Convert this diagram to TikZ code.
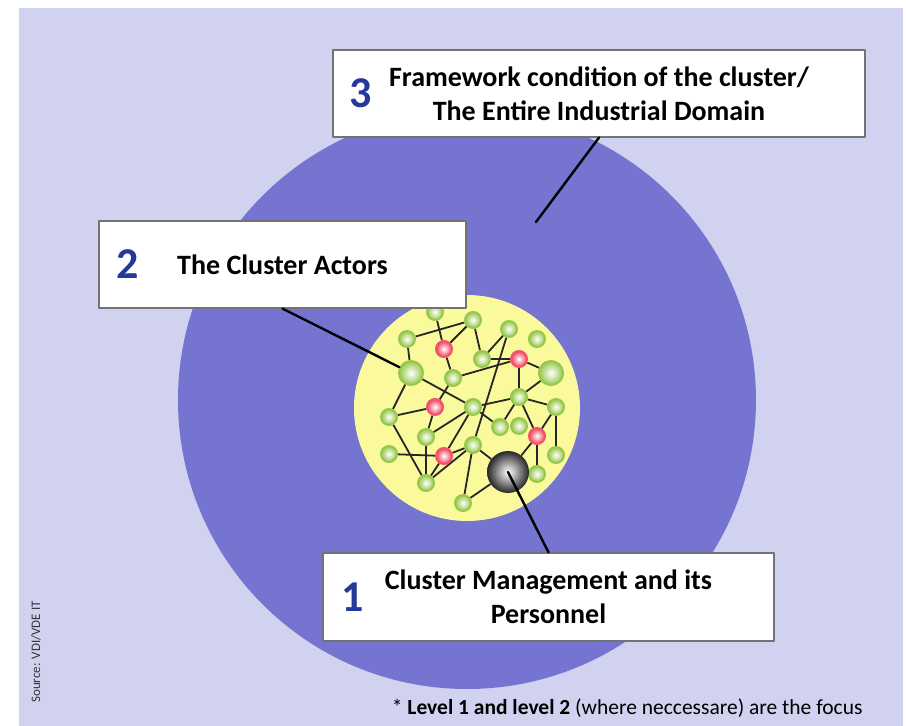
\documentclass[tikz,border=0pt]{standalone}
\usepackage{fontspec}
\setmainfont{Carlito}
\usetikzlibrary{positioning}
\definecolor{lavend}{HTML}{D1D1F0}
\definecolor{domainblue}{HTML}{7574D0}
\definecolor{core}{HTML}{FAFA9C}
\definecolor{lvlblue}{HTML}{26399A}
\definecolor{actgreen}{HTML}{96C84C}
\definecolor{actred}{HTML}{F0405A}
\pgfdeclarelayer{bg}\pgfdeclarelayer{links}
\pgfsetlayers{bg,links,main}
\tikzset{
	actor/.style={circle, inner sep=0pt, minimum size=16, shade, inner color=white, outer color=actgreen, draw=actgreen, line width=2},
	bigactor/.style={actor, minimum size=24},
	hub/.style={actor, inner color=white, outer color=actred, draw=actred!90},
	mgmt/.style={circle, inner sep=0pt, minimum size=42, shade, inner color=white, outer color=black!85},
	infobox/.style={rectangle, draw=black!55, fill=white, line width=1.2, align=center, inner sep=0pt, font=\bfseries\fontsize{28}{34}\selectfont},
	lvl/.style={inner sep=0pt, text=lvlblue, font=\bfseries\fontsize{44}{44}\selectfont},
	leader/.style={line width=2.4, black, line cap=round},
	link/.style={line width=1.8, black!85}
}
\begin{document}
\begin{tikzpicture}[x=1pt, y=-1pt, line join=round]
	\useasboundingbox (0,0) rectangle (906,726);
	\begin{pgfonlayer}{bg}
		\fill[lavend] (19,8) rectangle (903,726);
		\fill[domainblue] (467,400) circle (289);
		\fill[core] (467,408) circle (113);
	\end{pgfonlayer}
	% cluster actors
	\foreach \n/\x/\y in {1/435/312, 2/473/320, 3/509/329, 4/537/339, 5/407/339,
		7/482/359, 10/453/378, 13/473/407, 14/519/397, 15/556/407, 16/389/417,
		17/500/427, 18/519/426, 20/426/437, 21/389/454, 23/473/445, 24/556/455,
		26/537/474, 27/426/483, 28/463/503}
		\node[actor] (a\n) at (\x,\y) {};
	\foreach \n/\x/\y in {9/411/373, 11/551/373}
		\node[bigactor] (a\n) at (\x,\y) {};
	\foreach \n/\x/\y in {6/444/349, 8/519/359, 12/435/407, 19/537/436, 22/444/456}
		\node[hub] (a\n) at (\x,\y) {};
	\node[mgmt] (a25) at (508,472) {};
	\begin{pgfonlayer}{links}
		\foreach \a/\b in {1/6, 2/5, 2/6, 2/7, 3/7, 3/23, 7/8, 10/8, 8/11, 8/14, 14/11, 6/10,
			5/9, 9/13, 9/16, 10/12, 12/16, 13/14, 13/17, 14/17, 14/15, 14/19, 15/19, 15/24,
			19/25, 19/26, 12/20, 13/20, 13/22, 16/27, 21/22, 20/27, 22/27, 23/27, 22/23,
			23/25, 23/28, 25/28}
			\draw[link] (a\a) -- (a\b);
	\end{pgfonlayer}
	% level boxes
	\node[infobox, minimum width=532, minimum height=87] (box3) at (599,93.5)
		{Framework condition of the cluster/\\The Entire Industrial Domain};
	\node[lvl, right=17 of box3.west] {3};
	\node[infobox, minimum width=367, minimum height=87] (box2) at (282.5,264.5)
		{The Cluster Actors};
	\node[lvl, right=18 of box2.west] {2};
	\node[infobox, minimum width=451, minimum height=88] (box1) at (548.5,597)
		{Cluster Management and its\\Personnel};
	\node[lvl, right=19 of box1.west] {1};
	\coordinate (dom) at (536,222);
	\draw[leader] (box3.south) -- (dom);
	\draw[leader] (box2.south) -- (a9);
	\draw[leader] (a25.center) -- (box1.north);
	% notes
	\node[anchor=east, font=\fontsize{21.5}{24}\selectfont] (note) at (866,708)
		{* \textbf{Level 1 and level 2} (where neccessare) are the focus};
	\node[rotate=90, text=black!80, font=\fontsize{13}{14}\selectfont] (src) at (36,652)
		{Source: VDI/VDE IT};
\end{tikzpicture}
\end{document}
